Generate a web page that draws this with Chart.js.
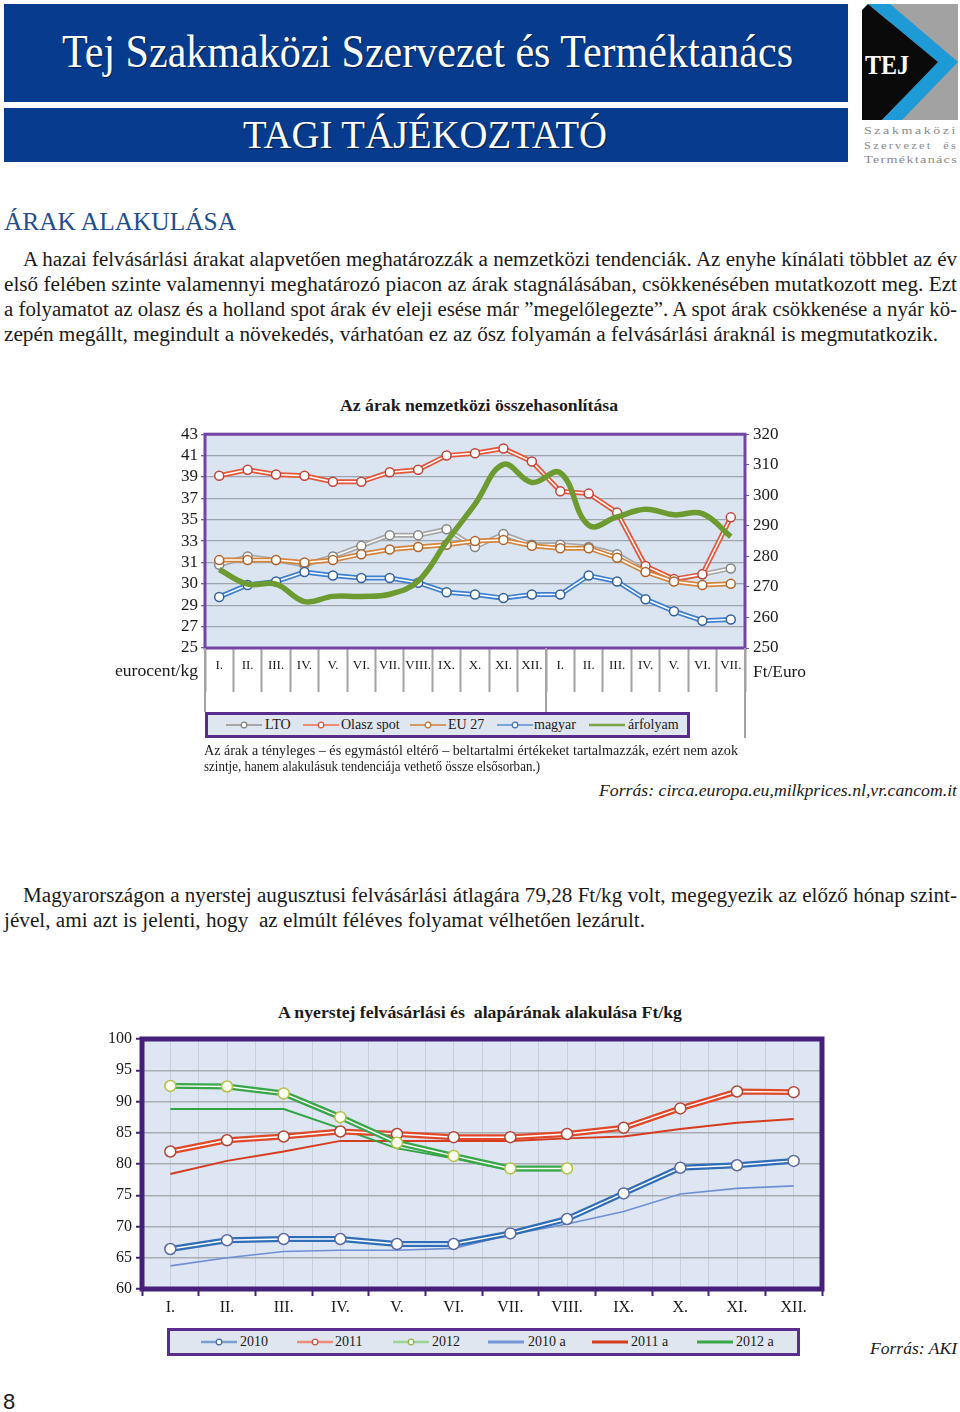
<!DOCTYPE html>
<html lang="hu">
<head>
<meta charset="UTF-8">
<title>Tagi tájékoztató – Árak alakulása</title>
<script src="https://cdn.jsdelivr.net/npm/chart.js"></script>
<style>
  body { margin:0; background:#fff; font-family:"Liberation Serif", "Times New Roman", serif; color:#1a1a1a; }
  #page { position:relative; width:960px; height:1412px; overflow:hidden; background:#fff; }
  .abs { position:absolute; white-space:nowrap; }
  .fit { display:inline-block; transform-origin:left center; }
  .banner { position:absolute; left:4px; width:844px; background:#073b8e; }
  .body20 { font-size:20px; line-height:24px; }
  .lgbox { position:absolute; box-sizing:border-box; background:#dfe6f0; border:3px solid #5a2d8c; }
  .lg { position:absolute; font-size:14px; line-height:16px; white-space:nowrap; }
  .sep { position:absolute; width:2px; background:#a3a3a3; }
  canvas { position:absolute; }
</style>
</head>
<body>
<div id="page">

  <!-- fejléc -->
  <div class="banner" style="top:4px;height:98px;"></div>
  <div class="banner" style="top:108px;height:54px;"></div>
  <div class="abs" style="left:62px;top:25px;font-size:46px;line-height:54px;color:#fff;text-shadow:1px 1px 1px #02204f;">
    <span class="fit" data-w="731">Tej Szakmaközi Szervezet és Terméktanács</span></div>
  <div class="abs" style="left:243px;top:112px;font-size:40px;line-height:46px;color:#fff;text-shadow:1px 1px 1px #02204f;">
    <span class="fit" data-w="364">TAGI TÁJÉKOZTATÓ</span></div>

  <svg class="abs" style="left:862px;top:4px;" width="96" height="116" viewBox="0 0 96 116">
    <polygon points="26,0 96,0 96,116 40,116" fill="#a2a2a2"/>
    <polygon points="6,0 28,0 96,58 40,116 20,116 76,58" fill="#1e9ad6"/>
    <polygon points="0,6 6,0 76,58 20,116 0,116" fill="#0a0a0a"/>
    <text x="3" y="70" font-family="Liberation Serif" font-weight="bold" font-size="27" fill="#fff" textLength="44" lengthAdjust="spacingAndGlyphs">TEJ</text>
  </svg>
  <div class="abs" style="left:864px;top:123px;font-size:11px;line-height:14px;color:#8a8a8a;letter-spacing:2px;"><span class="fit" data-w="94">Szakmaközi</span></div>
  <div class="abs" style="left:864px;top:138px;font-size:11px;line-height:14px;color:#8a8a8a;letter-spacing:2px;white-space:pre;"><span class="fit" data-w="94">Szervezet  és</span></div>
  <div class="abs" style="left:864px;top:152px;font-size:11px;line-height:14px;color:#8a8a8a;letter-spacing:1px;"><span class="fit" data-w="94">Terméktanács</span></div>

  <!-- szöveg -->
  <div class="abs" style="left:4px;top:207px;font-size:25px;line-height:30px;color:#1f4f8f;"><span class="fit" data-w="232">ÁRAK ALAKULÁSA</span></div>

  <div class="abs body20" style="left:23px;top:247px;"><span class="fit" data-w="934">A hazai felvásárlási árakat alapvetően meghatározzák a nemzetközi tendenciák. Az enyhe kínálati többlet az év</span></div>
  <div class="abs body20" style="left:4px;top:272px;"><span class="fit" data-w="953">első felében szinte valamennyi meghatározó piacon az árak stagnálásában, csökkenésében mutatkozott meg. Ezt</span></div>
  <div class="abs body20" style="left:4px;top:297px;"><span class="fit" data-w="953">a folyamatot az olasz és a holland spot árak év eleji esése már ”megelőlegezte”. A spot árak csökkenése a nyár kö-</span></div>
  <div class="abs body20" style="left:4px;top:322px;"><span class="fit" data-w="934">zepén megállt, megindult a növekedés, várhatóan ez az ősz folyamán a felvásárlási áraknál is megmutatkozik.</span></div>

  <!-- 1. ábra -->
  <div class="abs" style="left:340px;top:396px;font-size:17px;line-height:20px;font-weight:bold;"><span class="fit" data-w="278">Az árak nemzetközi összehasonlítása</span></div>
  <canvas id="chart1" width="720" height="275" style="left:100px;top:420px;"></canvas>
  <div class="abs" style="left:115px;top:661px;font-size:17px;line-height:20px;"><span class="fit" data-w="83">eurocent/kg</span></div>
  <div class="abs" style="left:753px;top:662px;font-size:17px;line-height:20px;"><span class="fit" data-w="53">Ft/Euro</span></div>
  <div class="sep" style="left:204px;top:648px;height:64px;"></div>
  <div class="sep" style="left:545px;top:648px;height:67px;"></div>
  <div class="sep" style="left:744px;top:648px;height:90px;"></div>

  <div class="lgbox" style="left:205px;top:712px;width:485px;height:26px;"></div>
  <svg class="abs" style="left:226px;top:720px;" width="36" height="10"><line x1="0" y1="5" x2="36" y2="5" stroke="#a6a6a6" stroke-width="2"/><circle cx="18" cy="5" r="2.8" fill="#fff" stroke="#7f7f7f" stroke-width="1.2"/></svg>
  <div class="lg" style="left:265px;top:717px;">LTO</div>
  <svg class="abs" style="left:303px;top:720px;" width="36" height="10"><line x1="0" y1="5" x2="36" y2="5" stroke="#ec8a78" stroke-width="2"/><circle cx="18" cy="5" r="2.8" fill="#fff" stroke="#d9553f" stroke-width="1.2"/></svg>
  <div class="lg" style="left:341px;top:717px;">Olasz spot</div>
  <svg class="abs" style="left:410px;top:720px;" width="36" height="10"><line x1="0" y1="5" x2="36" y2="5" stroke="#d39a68" stroke-width="2"/><circle cx="18" cy="5" r="2.8" fill="#fff" stroke="#c0702c" stroke-width="1.2"/></svg>
  <div class="lg" style="left:448px;top:717px;">EU 27</div>
  <svg class="abs" style="left:497px;top:720px;" width="36" height="10"><line x1="0" y1="5" x2="36" y2="5" stroke="#7aa3da" stroke-width="2"/><circle cx="18" cy="5" r="2.8" fill="#fff" stroke="#3f72b8" stroke-width="1.2"/></svg>
  <div class="lg" style="left:534px;top:717px;">magyar</div>
  <svg class="abs" style="left:589px;top:720px;" width="36" height="10"><line x1="0" y1="5" x2="36" y2="5" stroke="#7ca444" stroke-width="2.5"/></svg>
  <div class="lg" style="left:628px;top:717px;">árfolyam</div>

  <div class="abs" style="left:204px;top:743px;font-size:14px;line-height:16px;"><span class="fit" data-w="534">Az árak a tényleges – és egymástól eltérő – beltartalmi értékeket tartalmazzák, ezért nem azok</span></div>
  <div class="abs" style="left:204px;top:759px;font-size:14px;line-height:16px;"><span class="fit" data-w="336">szintje, hanem alakulásuk tendenciája vethető össze elsősorban.)</span></div>
  <div class="abs" style="left:599px;top:781px;font-size:17px;line-height:20px;font-style:italic;"><span class="fit" data-w="358">Forrás: circa.europa.eu,milkprices.nl,vr.cancom.it</span></div>

  <div class="abs body20" style="left:23px;top:883px;"><span class="fit" data-w="934">Magyarországon a nyerstej augusztusi felvásárlási átlagára 79,28 Ft/kg volt, megegyezik az előző hónap szint-</span></div>
  <div class="abs body20" style="left:4px;top:908px;white-space:pre;"><span class="fit" data-w="641">jével, ami azt is jelenti, hogy  az elmúlt féléves folyamat vélhetően lezárult.</span></div>

  <!-- 2. ábra -->
  <div class="abs" style="left:278px;top:1003px;font-size:17px;line-height:20px;font-weight:bold;white-space:pre;"><span class="fit" data-w="404">A nyerstej felvásárlási és  alapárának alakulása Ft/kg</span></div>
  <canvas id="chart2" width="760" height="300" style="left:80px;top:1025px;"></canvas>

  <div class="lgbox" style="left:167px;top:1328px;width:633px;height:28px;"></div>
  <svg class="abs" style="left:201px;top:1337px;" width="36" height="10"><line x1="0" y1="5" x2="36" y2="5" stroke="#7c9fd2" stroke-width="2.5"/><circle cx="18" cy="5" r="2.8" fill="#fff" stroke="#3f66a8" stroke-width="1.2"/></svg>
  <div class="lg" style="left:240px;top:1334px;">2010</div>
  <svg class="abs" style="left:297px;top:1337px;" width="36" height="10"><line x1="0" y1="5" x2="36" y2="5" stroke="#ec8c78" stroke-width="2.5"/><circle cx="18" cy="5" r="2.8" fill="#fff" stroke="#c8503c" stroke-width="1.2"/></svg>
  <div class="lg" style="left:335px;top:1334px;">2011</div>
  <svg class="abs" style="left:393px;top:1337px;" width="36" height="10"><line x1="0" y1="5" x2="36" y2="5" stroke="#9fd396" stroke-width="2.5"/><circle cx="18" cy="5" r="2.8" fill="#fff" stroke="#8fb64c" stroke-width="1.2"/></svg>
  <div class="lg" style="left:432px;top:1334px;">2012</div>
  <svg class="abs" style="left:488px;top:1337px;" width="36" height="10"><line x1="0" y1="5" x2="36" y2="5" stroke="#7396d6" stroke-width="3"/></svg>
  <div class="lg" style="left:528px;top:1334px;">2010 a</div>
  <svg class="abs" style="left:592px;top:1337px;" width="36" height="10"><line x1="0" y1="5" x2="36" y2="5" stroke="#d63c20" stroke-width="3"/></svg>
  <div class="lg" style="left:631px;top:1334px;">2011 a</div>
  <svg class="abs" style="left:697px;top:1337px;" width="36" height="10"><line x1="0" y1="5" x2="36" y2="5" stroke="#3aa64a" stroke-width="3"/></svg>
  <div class="lg" style="left:736px;top:1334px;">2012 a</div>

  <div class="abs" style="left:870px;top:1339px;font-size:17px;line-height:20px;font-style:italic;"><span class="fit" data-w="87">Forrás: AKI</span></div>
  <div class="abs" style="left:3px;top:1389px;font-family:'Liberation Sans',sans-serif;font-size:22px;line-height:26px;">8</div>
</div>

<script>
// 1. ábra: az árak nemzetközi összehasonlítása
const months1 = ['I.', 'II.', 'III.', 'IV.', 'V.', 'VI.', 'VII.', 'VIII.', 'IX.', 'X.', 'XI.', 'XII.',
                 'I.', 'II.', 'III.', 'IV.', 'V.', 'VI.', 'VII.'];
const leftTicks = ['25', '27', '29', '30', '31', '33', '35', '37', '39', '41', '43'];
const lto      = [32.0, 32.7, 32.4, 32.0, 32.7, 33.6, 34.5, 34.5, 35.0, 33.5, 34.6, 33.7, 33.7, 33.5, 32.9, 31.5, 30.7, 31.2, 31.7];
const olasz    = [39.5, 40.0, 39.6, 39.5, 39.0, 39.0, 39.8, 40.0, 41.2, 41.4, 41.8, 40.7, 38.2, 38.0, 36.4, 31.9, 30.8, 31.2, 36.0];
const eu27     = [32.4, 32.4, 32.4, 32.2, 32.4, 32.9, 33.3, 33.5, 33.7, 34.0, 34.1, 33.6, 33.4, 33.4, 32.6, 31.4, 30.6, 30.3, 30.4];
const magyar   = [29.3, 30.3, 30.6, 31.4, 31.1, 30.9, 30.9, 30.5, 29.7, 29.5, 29.2, 29.5, 29.5, 31.1, 30.6, 29.1, 28.1, 27.3, 27.4];
const arfolyam = [275.7, 270.9, 270.9, 265.2, 266.9, 266.9, 267.6, 271.9, 284.8, 297.1, 310.1, 304.2, 307.4, 290.2, 292.9, 295.4, 293.6, 294.0, 286.5];

// 2. ábra: nyerstej felvásárlási és alapár, Ft/kg
const months2 = ['I.', 'II.', 'III.', 'IV.', 'V.', 'VI.', 'VII.', 'VIII.', 'IX.', 'X.', 'XI.', 'XII.'];
const y2010 = [66.4, 67.8, 68.0, 68.0, 67.2, 67.2, 68.9, 71.2, 75.3, 79.4, 79.8, 80.5];
const y2011 = [82.0, 83.8, 84.4, 85.2, 84.8, 84.3, 84.3, 84.8, 85.8, 88.9, 91.6, 91.5];
const y2012 = [92.5, 92.4, 91.3, 87.5, 83.4, 81.3, 79.3, 79.3];
const a2010 = [63.7, 65.0, 66.0, 66.2, 66.2, 66.5, 68.7, 70.4, 72.4, 75.2, 76.1, 76.5];
const a2011 = [78.4, 80.5, 82.0, 83.7, 83.7, 83.7, 83.7, 84.1, 84.4, 85.6, 86.6, 87.2];
const a2012 = [88.8, 88.8, 88.8, 85.7, 82.5, 80.9, 79.0, 79.0];

// szövegsorok szélességre igazítása
function fitText() {
  document.querySelectorAll('.fit').forEach(function (el) {
    el.style.transform = 'none';
    const nat = el.getBoundingClientRect().width;
    el.style.transform = 'scaleX(' + (+el.dataset.w / nat) + ')';
  });
}
fitText();
if (document.fonts) document.fonts.ready.then(fitText);

const serif = 'Liberation Serif';

// háttér és keret a rajzterület köré
const frame = {
  id: 'frame',
  beforeDraw(chart, args, opts) {
    const a = chart.chartArea, ctx = chart.ctx;
    ctx.save();
    ctx.fillStyle = opts.bg;
    ctx.fillRect(a.left, a.top, a.right - a.left, a.bottom - a.top);
    ctx.restore();
  },
  afterDraw(chart, args, opts) {
    const a = chart.chartArea, ctx = chart.ctx;
    ctx.save();
    ctx.strokeStyle = opts.color;
    ctx.lineWidth = opts.width;
    ctx.strokeRect(a.left, a.top, a.right - a.left, a.bottom - a.top);
    ctx.restore();
  }
};

// dupla (fehér közepű) vonal jelölőkkel
function doubleLine(data, color, mark, fill, order, width, radius, axis) {
  const inner = { data: data, order: order, borderColor: '#fff', borderWidth: 1.5,
    pointRadius: radius, pointBackgroundColor: fill, pointBorderColor: mark, pointBorderWidth: 1.5, tension: 0 };
  const outer = { data: data, order: order + 1, borderColor: color, borderWidth: width, pointRadius: 0, tension: 0 };
  if (axis) { inner.yAxisID = axis; outer.yAxisID = axis; }
  return [inner, outer];
}

new Chart(document.getElementById('chart1'), {
  type: 'line',
  data: {
    labels: months1,
    datasets: [
      { data: arfolyam, yAxisID: 'y1', order: 0, borderColor: '#6e9b31', borderWidth: 5.5, pointRadius: 0, tension: 0.4 },
      ...doubleLine(magyar, '#3e7fcf', '#34609e', '#fff', 2, 5, 4.5, 'y'),
      ...doubleLine(eu27, '#d4843c', '#b0642a', '#fff', 4, 5, 4.5, 'y'),
      ...doubleLine(olasz, '#e5573b', '#c0453a', '#fff', 6, 5, 4.5, 'y'),
      ...doubleLine(lto, '#a8a8a8', '#858585', '#fff', 8, 5, 4.5, 'y')
    ]
  },
  options: {
    responsive: false,
    animation: false,
    layout: { padding: { top: 11, left: 0, right: 0, bottom: 0 } },
    plugins: {
      legend: { display: false },
      tooltip: { enabled: false },
      frame: { bg: '#dbe5f1', color: '#7444a4', width: 3 }
    },
    scales: {
      x: {
        offset: true,
        grid: { drawOnChartArea: false, tickLength: 44, tickColor: '#a3a3a3', tickWidth: 2, offset: true },
        border: { display: false },
        ticks: { padding: -34, autoSkip: false, maxRotation: 0, color: '#1a1a1a', font: { family: serif, size: 13 } },
        afterFit(s) { s.height = 47; }
      },
      y: {
        position: 'left', min: 25, max: 43,
        afterBuildTicks(s) { s.ticks = leftTicks.map((t, i) => ({ value: 25 + i * 1.8 })); },
        grid: { color: '#a0a4ac', lineWidth: 1.3, tickLength: 4, tickColor: '#7a56a6' },
        border: { display: false },
        ticks: { autoSkip: false, callback: (v, i) => leftTicks[i], padding: 3, color: '#1a1a1a', font: { family: serif, size: 17 } },
        afterFit(s) { s.width = 105; }
      },
      y1: {
        position: 'right', min: 250, max: 320,
        grid: { drawOnChartArea: false, tickLength: 4, tickColor: '#7a56a6' },
        border: { display: false },
        ticks: { autoSkip: false, stepSize: 10, padding: 4, color: '#1a1a1a', font: { family: serif, size: 17 } },
        afterFit(s) { s.width = 75; }
      }
    }
  },
  plugins: [frame]
});

const pts = arr => arr.map((v, i) => ({ x: i, y: v }));

new Chart(document.getElementById('chart2'), {
  type: 'line',
  data: {
    datasets: [
      ...doubleLine(pts(y2012), '#3aa64a', '#b4c244', '#fffff2', 0, 6, 5.5),
      ...doubleLine(pts(y2011), '#e0482a', '#b4463a', '#fff', 2, 6, 5.5),
      ...doubleLine(pts(y2010), '#2f6db6', '#5a6aa2', '#fff', 4, 6, 5.5),
      { data: pts(a2012), order: 6, borderColor: '#31a344', borderWidth: 2, pointRadius: 0, tension: 0 },
      { data: pts(a2011), order: 7, borderColor: '#d63c20', borderWidth: 2, pointRadius: 0, tension: 0 },
      { data: pts(a2010), order: 8, borderColor: '#6f8fd2', borderWidth: 1.6, pointRadius: 0, tension: 0 }
    ]
  },
  options: {
    responsive: false,
    animation: false,
    layout: { padding: { top: 14, left: 0, right: 18, bottom: 0 } },
    plugins: {
      legend: { display: false },
      tooltip: { enabled: false },
      frame: { bg: '#dde6f2', color: '#44207a', width: 5 }
    },
    scales: {
      x: {
        type: 'linear', min: -0.5, max: 11.5,
        afterBuildTicks(s) { s.ticks = Array.from({ length: 25 }, (_, i) => ({ value: -0.5 + i * 0.5 })); },
        grid: {
          color: '#c6d0dd', lineWidth: 1, tickLength: 7, tickWidth: 2,
          tickColor: c => (c.tick && c.tick.value % 1 !== 0) ? '#44207a' : 'rgba(0,0,0,0)'
        },
        border: { display: false },
        ticks: {
          autoSkip: false, maxRotation: 0, padding: 2, color: '#1a1a1a', font: { family: serif, size: 16 },
          callback: v => Number.isInteger(v) ? months2[v] : ''
        },
        afterFit(s) { s.height = 36; }
      },
      y: {
        min: 60, max: 100,
        grid: { color: '#a9adb4', lineWidth: 1.5, tickLength: 6, tickWidth: 2, tickColor: '#44207a' },
        border: { display: false },
        ticks: { autoSkip: false, stepSize: 5, padding: 4, color: '#1a1a1a', font: { family: serif, size: 16 } },
        afterFit(s) { s.width = 62; }
      }
    }
  },
  plugins: [frame]
});
</script>
</body>
</html>
